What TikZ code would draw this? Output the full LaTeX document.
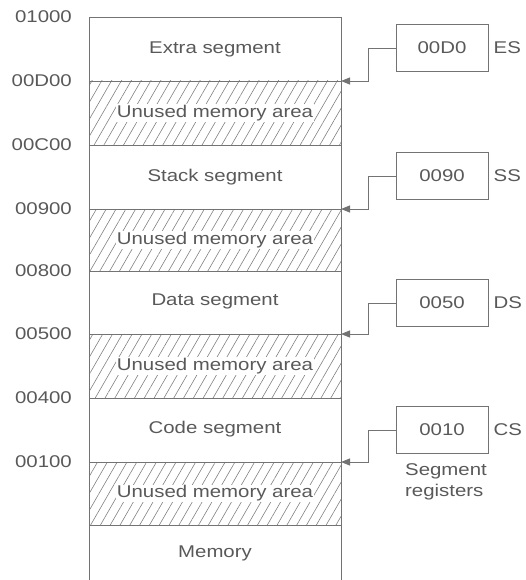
\documentclass[tikz,border=0pt]{standalone}
\usepackage{fontspec}
\setmainfont[FakeStretch=1.2]{Liberation Sans}
\usetikzlibrary{patterns.meta,arrows.meta}

\tikzset{
	lbl/.style={font=\fontsize{17}{21}\selectfont, text=black!65},
	unused/.style={draw=black!55, line width=0.9pt, pattern={Lines[angle=60,distance=8.5pt,line width=0.6pt]}, pattern color=black!50},
	regbox/.style={lbl, draw=black!55, line width=0.9pt, minimum width=92pt, minimum height=47pt},
	link/.style={draw=black!55, line width=0.9pt, -{Triangle[length=9pt,width=7pt]}}
}

\begin{document}
\begin{tikzpicture}[x=1pt,y=-1pt]
	\useasboundingbox (0,0) rectangle (525,580);
	% Memory column
	\draw[black!55, line width=0.9pt] (89,580) -- (89,17) -- (341,17) -- (341,580);
	% Unused areas
	\foreach \t/\b in {81/145,209/271,334/398,462/525}
		\draw[unused] (89,\t) rectangle (341,\b) node[midway, lbl, fill=white, inner sep=1pt] (unused\t) {Unused memory area};
	% Segments
	\foreach \s/\y/\txt in {es/49/Extra segment,ss/177/Stack segment,ds/301/Data segment,cs/429/Code segment,mem/553/Memory}
		\node[lbl] (\s-seg) at (215,\y) {\txt};
	% Addresses
	\foreach \a/\y in {01000/17,00D00/81,00C00/145,00900/209,00800/271,00500/334,00400/398,00100/462}
		\node[lbl, anchor=east, inner sep=0pt] (addr\a) at (72,\y) {\a};
	% Segment registers
	\foreach \r/\v/\y/\n in {es/00D0/48/ES,ss/0090/176/SS,ds/0050/303/DS,cs/0010/430/CS}{
		\node[regbox] (\r) at (442,\y) {\v};
		\node[lbl, anchor=west, inner sep=0pt] (\r-name) at ([xshift=5pt]\r.east) {\n};
	}
	\node[lbl, align=left] (segreg) at (446,482) {Segment\\registers};
	% Connectors
	\foreach \r/\y in {es/81,ss/209,ds/334,cs/462}{
		\coordinate (\r-base) at (341,\y);
		\draw[link] (\r.west) -- ++(-27,0) |- (\r-base);
	}
\end{tikzpicture}
\end{document}
